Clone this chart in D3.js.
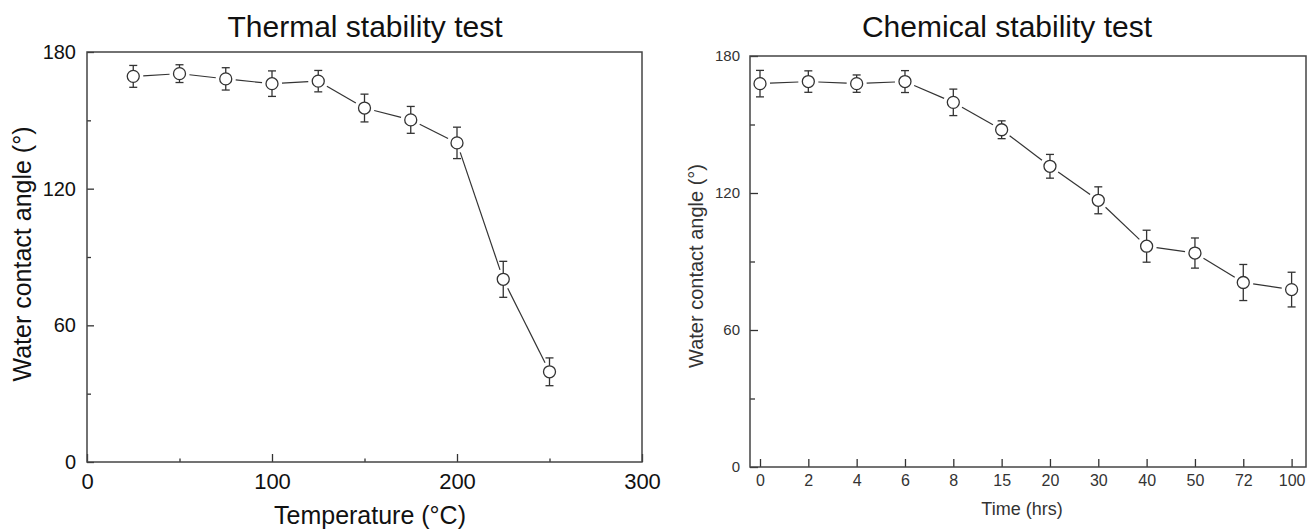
<!DOCTYPE html>
<html><head><meta charset="utf-8">
<script src="https://cdn.jsdelivr.net/npm/d3@7"></script>
<style>body{margin:0;background:#fff} svg{display:block}</style>
</head><body><svg id="c" width="1312" height="532"></svg>
<script>
// ---- data ----
const thermalTemps = [25, 50, 75, 100, 125, 150, 175, 200, 225, 250];
const thermalAngles = [169.3, 170.5, 168.2, 166.1, 167.2, 155.4, 150.2, 140.1, 80.2, 39.6];
const thermalErrors = [4.8, 3.9, 4.9, 5.6, 4.7, 6.1, 5.9, 6.9, 7.9, 6.1];
const thermalXTicks = [0, 100, 200, 300];
const thermalXMinor = [50, 150, 250];
const angleTicks = [0, 60, 120, 180];
const angleMinor = [30, 90, 150];
const chemTimes = ["0", "2", "4", "6", "8", "15", "20", "30", "40", "50", "72", "100"];
const chemAngles = [167.9, 168.8, 167.9, 168.8, 159.7, 147.7, 131.7, 116.8, 96.7, 93.7, 80.8, 77.7];
const chemErrors = [5.8, 4.7, 3.8, 4.8, 5.8, 3.9, 5.2, 5.9, 7.0, 6.6, 7.9, 7.6];

const svg = d3.select("#c");
const FONT = "'Liberation Sans', Arial, sans-serif";
const INK = "#333";

function styleAxis(g, size, color) {
  g.select(".domain").remove();
  g.selectAll(".tick line").attr("stroke", INK).attr("stroke-width", 1.3);
  g.selectAll(".tick text").attr("font-family", FONT).attr("font-size", size).attr("fill", color);
}

function drawSeries(g, pts, y, errs) {
  const r = 6, gap = 10, cap = 4;
  // connecting segments with gaps
  for (let i = 0; i < pts.length - 1; i++) {
    const a = pts[i], b = pts[i + 1];
    const dx = b[0] - a[0], dy = b[1] - a[1], L = Math.hypot(dx, dy);
    g.append("line")
      .attr("x1", a[0] + dx / L * gap).attr("y1", a[1] + dy / L * gap)
      .attr("x2", b[0] - dx / L * gap).attr("y2", b[1] - dy / L * gap)
      .attr("stroke", INK).attr("stroke-width", 1.2);
  }
  pts.forEach((p, i) => {
    const yt = y(p[2] + errs[i]), yb = y(p[2] - errs[i]);
    g.append("line").attr("x1", p[0]).attr("x2", p[0]).attr("y1", yt).attr("y2", yb)
      .attr("stroke", INK).attr("stroke-width", 1.3);
    [yt, yb].forEach(yy => g.append("line").attr("x1", p[0] - cap).attr("x2", p[0] + cap)
      .attr("y1", yy).attr("y2", yy).attr("stroke", INK).attr("stroke-width", 1.3));
    g.append("circle").attr("cx", p[0]).attr("cy", p[1]).attr("r", r)
      .attr("fill", "#fff").attr("stroke", INK).attr("stroke-width", 1.3);
  });
}

// ---- left: thermal ----
{
  const L = 87, R = 642, T = 52, B = 462;
  const x = d3.scaleLinear().domain([0, 300]).range([L, R]);
  const y = d3.scaleLinear().domain([0, 180]).range([B, T]);
  const g = svg.append("g");
  g.append("g").attr("transform", `translate(0,${B})`)
    .call(d3.axisBottom(x).tickValues(thermalXTicks).tickSize(-8).tickSizeOuter(0).tickPadding(11))
    .call(a => styleAxis(a, 22, "#111"));
  g.append("g").attr("transform", `translate(0,${B})`)
    .call(d3.axisBottom(x).tickValues(thermalXMinor).tickSize(-3.5).tickSizeOuter(0).tickFormat(""))
    .call(a => styleAxis(a, 22, "#111"));
  g.append("g").attr("transform", `translate(${L},0)`)
    .call(d3.axisLeft(y).tickValues(angleTicks).tickSize(-7).tickSizeOuter(0).tickPadding(11))
    .call(a => styleAxis(a, 20, "#111"));
  g.append("g").attr("transform", `translate(${L},0)`)
    .call(d3.axisLeft(y).tickValues(angleMinor).tickSize(-4).tickSizeOuter(0).tickFormat(""))
    .call(a => styleAxis(a, 20, "#111"));
  g.append("rect").attr("x", L).attr("y", T).attr("width", R - L).attr("height", B - T)
    .attr("fill", "none").attr("stroke", "#444").attr("stroke-width", 1.5);
  const pts = thermalTemps.map((t, i) => [x(t), y(thermalAngles[i]), thermalAngles[i]]);
  drawSeries(g, pts, y, thermalErrors);
  g.append("text").attr("x", 365).attr("y", 37).attr("text-anchor", "middle")
    .attr("font-family", FONT).attr("font-size", 30).attr("fill", "#111").text("Thermal stability test");
  g.append("text").attr("x", 370).attr("y", 524).attr("text-anchor", "middle")
    .attr("font-family", FONT).attr("font-size", 25).attr("fill", "#111").text("Temperature (°C)");
  g.append("text").attr("transform", "translate(31,254) rotate(-90)").attr("text-anchor", "middle")
    .attr("font-family", FONT).attr("font-size", 25).attr("fill", "#111").text("Water contact angle (°)");
}

// ---- right: chemical ----
{
  const L = 750, R = 1306, T = 56, B = 467;
  const x = d3.scalePoint().domain(chemTimes).range([760, 1291.6]);
  const y = d3.scaleLinear().domain([0, 180]).range([B, T]);
  const g = svg.append("g");
  g.append("g").attr("transform", `translate(0,${B})`)
    .call(d3.axisBottom(x).tickSize(-8).tickSizeOuter(0).tickPadding(8))
    .call(a => styleAxis(a, 16, "#333"));
  g.append("g").attr("transform", `translate(${L},0)`)
    .call(d3.axisLeft(y).tickValues(angleTicks).tickSize(-8).tickSizeOuter(0).tickPadding(10))
    .call(a => styleAxis(a, 15, "#333"));
  g.append("g").attr("transform", `translate(${L},0)`)
    .call(d3.axisLeft(y).tickValues(angleMinor).tickSize(-5).tickSizeOuter(0).tickFormat(""))
    .call(a => styleAxis(a, 15, "#333"));
  g.append("rect").attr("x", L).attr("y", T).attr("width", R - L).attr("height", B - T)
    .attr("fill", "none").attr("stroke", "#444").attr("stroke-width", 1.5);
  const pts = chemTimes.map((t, i) => [x(t), y(chemAngles[i]), chemAngles[i]]);
  drawSeries(g, pts, y, chemErrors);
  g.append("text").attr("x", 1007).attr("y", 37).attr("text-anchor", "middle")
    .attr("font-family", FONT).attr("font-size", 30).attr("fill", "#111").text("Chemical stability test");
  g.append("text").attr("x", 1022).attr("y", 515).attr("text-anchor", "middle")
    .attr("font-family", FONT).attr("font-size", 18).attr("fill", "#333").text("Time (hrs)");
  g.append("text").attr("transform", "translate(703,266) rotate(-90)").attr("text-anchor", "middle")
    .attr("font-family", FONT).attr("font-size", 20).attr("fill", "#333").text("Water contact angle (°)");
}
</script></body></html>
